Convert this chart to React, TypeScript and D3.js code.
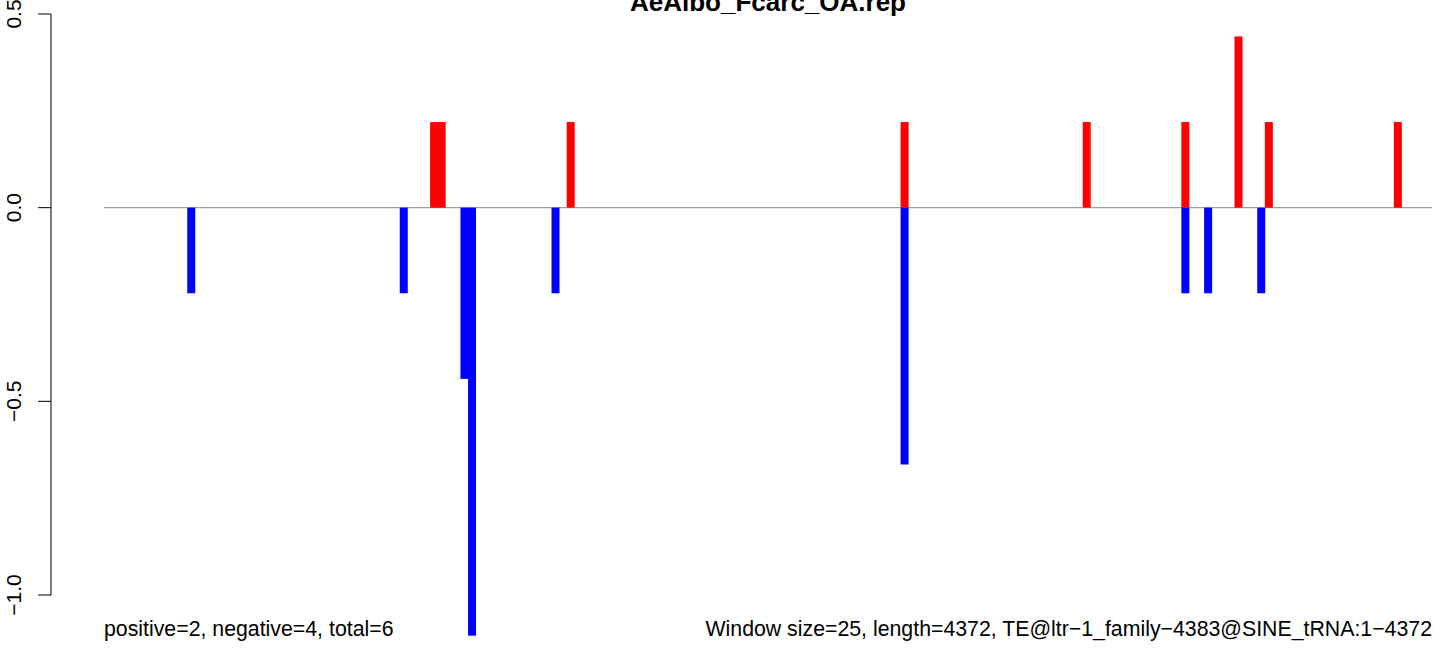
import React from "react";
import * as d3 from "d3";

const title = "AeAlbo_Fcarc_OA.rep";
const windowSize = 25;
const nWindows = 175;
const posWindows = [43, 44, 61, 105, 129, 142, 149, 153, 170];
const posValues = [0.221, 0.221, 0.221, 0.221, 0.221, 0.221, 0.442, 0.221, 0.221];
const negWindows = [11, 39, 47, 48, 59, 105, 142, 145, 152];
const negValues = [-0.221, -0.221, -0.442, -1.105, -0.221, -0.663, -0.221, -0.221, -0.221];
const yTicks = [0.5, 0.0, -0.5, -1.0];
const leftNote = "positive=2, negative=4, total=6";
const rightNote = "Window size=25, length=4372, TE@ltr\u22121_family\u22124383@SINE_tRNA:1\u22124372";

export default function App() {
  const W = 1444, H = 656;
  const x = d3.scaleLinear().domain([0, nWindows * windowSize]).range([104, 1432]);
  const y = d3.scaleLinear().domain([-1.0, 0.5]).range([595, 14]);
  const barW = 8;
  const font = "'Liberation Sans', Arial, Helvetica, sans-serif";
  const fmt = (v: number) => (v < 0 ? "\u2212" : "") + Math.abs(v).toFixed(1);
  const bars = (ws: number[], vs: number[], color: string) =>
    ws.map((w, i) => {
      const cx = x((w + 0.5) * windowSize);
      const y0 = y(0), y1 = y(vs[i]);
      return (
        <rect key={color + i} x={cx - barW / 2} width={barW}
          y={Math.min(y0, y1)} height={Math.abs(y1 - y0)} fill={color} />
      );
    });
  return (
    <svg width={W} height={H} style={{ position: "absolute", left: 0, top: 0, background: "#fff" }} fontFamily={font}>
      <rect x={0} y={0} width={W} height={H} fill="#fff" />
      <text x={(104 + 1432) / 2} y={11} textAnchor="middle" fontWeight="bold" fontSize={26}>{title}</text>
      <line x1={51} x2={51} y1={y(0.5)} y2={y(-1.0)} stroke="#000" strokeWidth={1} />
      {yTicks.map((t) => (
        <g key={t}>
          <line x1={38} x2={51} y1={y(t)} y2={y(t)} stroke="#000" strokeWidth={1} />
          <text transform={`translate(21,${y(t)}) rotate(-90)`} textAnchor="middle" fontSize={21}>{fmt(t)}</text>
        </g>
      ))}
      <line x1={x(0)} x2={x(nWindows * windowSize)} y1={y(0)} y2={y(0)} stroke="#9e9e9e" strokeWidth={1.4} />
      {bars(posWindows, posValues, "#ff0000")}
      {bars(negWindows, negValues, "#0000ff")}
      <text x={104} y={636} fontSize={21.3}>{leftNote}</text>
      <text x={1432} y={636} fontSize={21.3} textAnchor="end">{rightNote}</text>
    </svg>
  );
}
